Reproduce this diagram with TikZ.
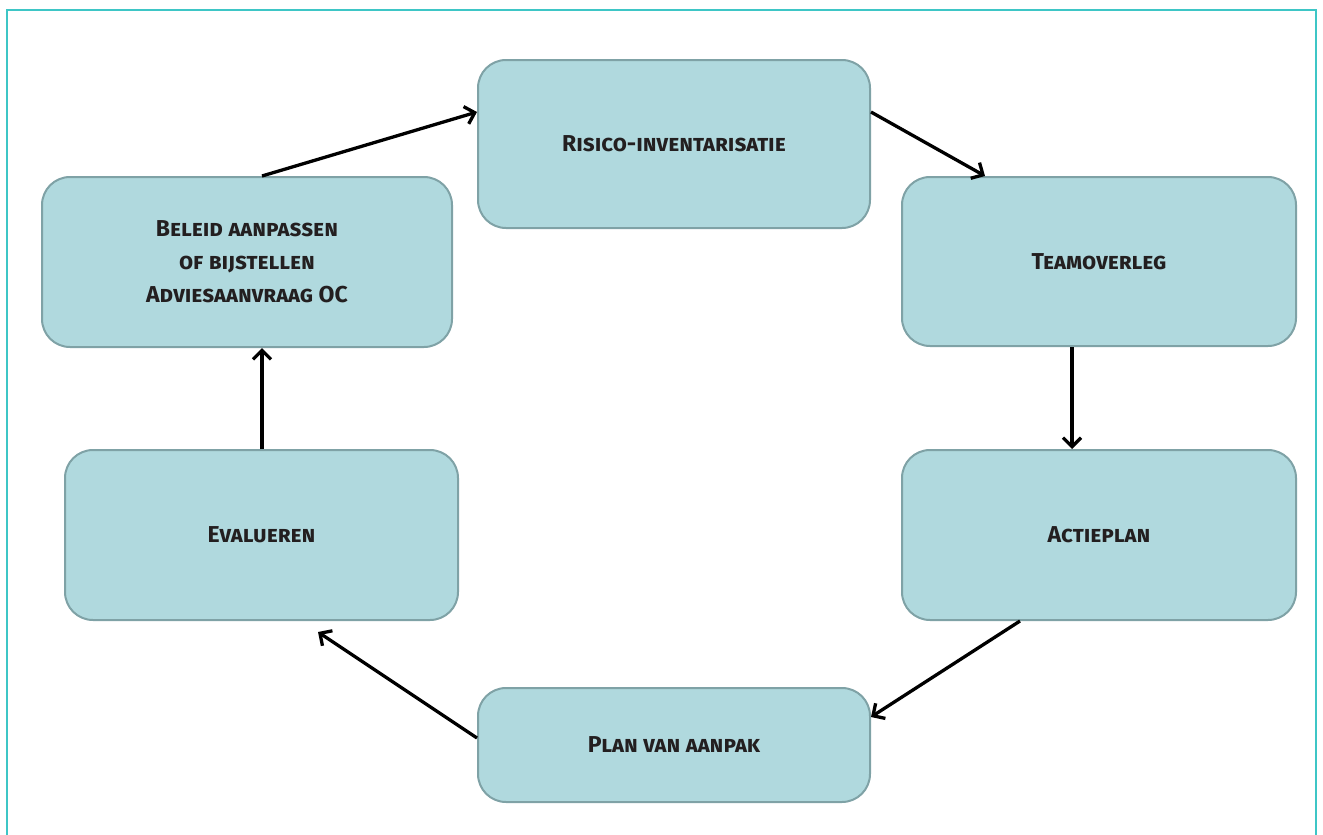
\documentclass[tikz,border=0pt]{standalone}
\usepackage{fontspec}
\setmainfont{Fira Sans}
\usetikzlibrary{arrows.meta}
\definecolor{boxfill}{HTML}{B0D9DE}
\definecolor{boxline}{HTML}{7FA2A6}
\definecolor{frame}{HTML}{3EC6C6}
\definecolor{txt}{HTML}{231F20}
\tikzset{
  stepbox/.style={draw=boxline, line width=2pt, fill=boxfill, rounded corners=28pt,
    minimum width=#1, inner sep=0pt, align=center, text=txt,
    font=\fontsize{23}{33}\selectfont\bfseries\scshape},
  stepbox/.default=392pt,
  flow/.style={line width=3.3pt, -{Straight Barb[length=9pt,width=18pt,line width=3.3pt]}},
}
\begin{document}
\begin{tikzpicture}[x=1pt,y=-1pt]
\useasboundingbox (0,0) rectangle (1323,835);
\draw[frame, line width=2.5pt] (7,835) -- (7,10) -- (1316,10) -- (1316,835);
\node[stepbox, minimum height=168pt] (ri) at (674,144) {Risico-inventarisatie};
\node[stepbox=394pt, minimum height=169pt] (to) at (1099,261.5) {\raisebox{-6pt}{Teamoverleg}};
\node[stepbox=394pt, minimum height=170pt] (ap) at (1099,535) {Actieplan};
\node[stepbox, minimum height=114pt] (pl) at (674,745) {Plan van aanpak};
\node[stepbox=393pt, minimum height=170pt] (ev) at (261.5,535) {Evalueren};
\node[stepbox=410pt, minimum height=170pt] (be) at (247,262) {Beleid aanpassen\\of bijstellen\\Adviesaanvraag OC};
\coordinate (evend) at (318,632);
\draw[flow] (be.north -| 262,0) -- (ri.west |- 0,112);
\draw[flow] (ri.east |- 0,112) -- (to.north -| 985,0);
\draw[flow] (to.south -| 1072,0) -- (ap.north -| 1072,0);
\draw[flow] (ap.south -| 1020,0) -- (pl.east |- 0,717);
\draw[flow] (pl.west |- 0,738) -- (evend);
\draw[flow] (ev.north -| 262,0) -- (be.south -| 262,0);
\end{tikzpicture}
\end{document}
